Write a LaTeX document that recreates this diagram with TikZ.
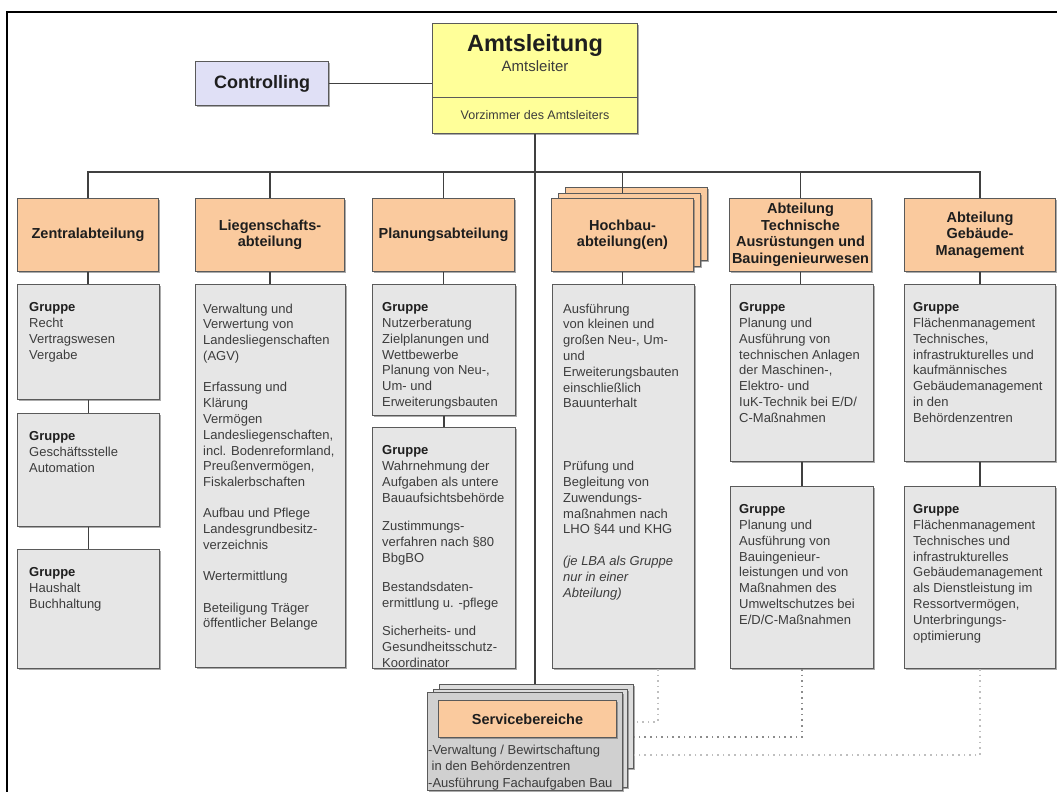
\documentclass[tikz,border=0pt]{standalone}
\usepackage{fontspec}
\setmainfont{Liberation Sans}
\usetikzlibrary{shadows}

\definecolor{hdrfill}{HTML}{FACA9E}
\definecolor{boxfill}{HTML}{E6E6E6}
\definecolor{amtfill}{HTML}{FFFF99}
\definecolor{ctrlfill}{HTML}{E0E0F6}
\definecolor{svfill}{HTML}{D0D0D0}
\definecolor{svback}{HTML}{DCDCDC}
\definecolor{edge}{HTML}{5A5A5A}
\definecolor{ink}{HTML}{3C3C3C}
\definecolor{headink}{HTML}{1E1E1E}
\definecolor{linecol}{HTML}{404040}

% fixed height of the first text line in the group boxes
\newcommand\firstln{\rule{0pt}{10pt}}
\newcommand\gruppe{\textcolor{headink}{\bfseries Gruppe}}

\begin{document}
\begin{tikzpicture}[x=1pt,y=-1pt,
  frameline/.style={line width=2pt, black},
  boxbase/.style={draw=edge, line width=1pt, inner sep=0pt, anchor=north west,
    drop shadow={shadow xshift=1.1pt, shadow yshift=-1.1pt, opacity=0.55, fill=black!60}},
  hdr/.style={boxbase, fill=hdrfill, text=headink, align=center,
    font=\bfseries\fontsize{14.5}{16.5}\selectfont, minimum height=73pt},
  grp/.style={boxbase, fill=boxfill},
  txt/.style={anchor=north west, inner sep=0pt, align=left, text=ink,
    font=\fontsize{13}{15.8}\selectfont, execute at begin node=\firstln},
  conn/.style={draw=linecol, line width=1.6pt},
  dotlight/.style={draw=black!25, line width=1.2pt, dash pattern=on 1.6pt off 4pt},
  dotdark/.style={draw=black!45, line width=1.2pt, dash pattern=on 1.6pt off 4pt},
]
\useasboundingbox (0,0) rectangle (1057,792);

% outer frame
\draw[frameline] (7,792) -- (7,12) -- (1057,12);

% junction level of the department bus
\coordinate (bus) at (533,172);

% ---------- office head ----------
\node[boxbase, fill=amtfill, minimum width=205pt, minimum height=74pt] (amt) at (432,23) {};
\node[boxbase, fill=amtfill, minimum width=205pt, minimum height=36pt,
  font=\fontsize{12.5}{15}\selectfont, text=ink] (vz) at (432,97) {Vorzimmer des Amtsleiters};
\node[font=\bfseries\fontsize{23.5}{26}\selectfont, text=headink] (amtT) at ([yshift=-22pt]amt.north) {Amtsleitung};
\node[font=\fontsize{15}{18}\selectfont, text=ink] (amtL) at ([yshift=-43pt]amt.north) {Amtsleiter};

\node[boxbase, fill=ctrlfill, minimum width=133pt, minimum height=44pt,
  font=\bfseries\fontsize{18}{21}\selectfont, text=headink] (ctrl) at (195,61) {Controlling};
\draw[conn] (ctrl.east) -- (ctrl.east -| amt.west);

% ---------- department headers ----------
\node[hdr, minimum width=141pt] (zh) at (17,198) {Zentralabteilung};
\node[hdr, minimum width=149pt] (lh) at (195,198) {Liegenschafts-\\abteilung};
\node[hdr, minimum width=142pt] (ph) at (372,198) {Planungsabteilung};
\node[boxbase, fill=hdrfill, minimum width=142pt, minimum height=73pt] (hh3) at (565,187) {};
\node[boxbase, fill=hdrfill, minimum width=142pt, minimum height=73pt] (hh2) at (558,193) {};
\node[hdr, minimum width=142pt] (hh) at (551,198) {Hochbau-\\abteilung(en)};
\node[hdr, minimum width=142pt] (th) at (729,198) {Abteilung\\Technische\\Ausrüstungen und\\Bauingenieurwesen};
\node[hdr, minimum width=151pt] (gh) at (904,198) {Abteilung\\Gebäude-\\Management};

% bus and drops
\draw[conn] (vz.south) -- (vz.south |- bus);
\draw[conn] (zh.north) |- (gh.north |- bus) -- (gh.north);
\draw[conn] (lh.north) -- (lh.north |- bus);
\draw[conn] (ph.north) -- (ph.north |- bus);
\draw[conn] (hh.north |- hh2.north) -- (hh.north |- bus);
\draw[conn] (th.north) -- (th.north |- bus);

% ---------- group boxes ----------
\node[grp, minimum width=142pt, minimum height=115pt] (z1) at (17,284) {};
\node[grp, minimum width=142pt, minimum height=113pt] (z2) at (17,413) {};
\node[grp, minimum width=142pt, minimum height=119pt] (z3) at (17,549) {};
\node[grp, minimum width=150pt, minimum height=383pt] (l1) at (195,284) {};
\node[grp, minimum width=143pt, minimum height=131pt] (p1) at (372,284) {};
\node[grp, minimum width=143pt, minimum height=241pt] (p2) at (372,427) {};
\node[grp, minimum width=142pt, minimum height=384pt] (h1) at (552,284) {};
\node[grp, minimum width=143pt, minimum height=177pt] (t1) at (730,284) {};
\node[grp, minimum width=143pt, minimum height=182pt] (t2) at (730,486) {};
\node[grp, minimum width=151pt, minimum height=177pt] (g1) at (904,284) {};
\node[grp, minimum width=151pt, minimum height=182pt] (g2) at (904,486) {};

% header to group links
\draw[conn] (zh.south) -- (zh.south |- z1.north);
\draw[conn] (z1.south) -- (z1.south |- z2.north);
\draw[conn] (z2.south) -- (z2.south |- z3.north);
\draw[conn] (lh.south) -- (lh.south |- l1.north);
\draw[conn] (ph.south) -- (ph.south |- p1.north);
\draw[conn] (p1.south) -- (p1.south |- p2.north);
\draw[conn] (hh.south) -- (hh.south |- h1.north);
\draw[conn] (th.south) -- (th.south |- t1.north);
\draw[conn] (t1.south) -- (t1.south |- t2.north);
\draw[conn] (gh.south) -- (gh.south |- g1.north);
\draw[conn] (g1.south) -- (g1.south |- g2.north);

% ---------- group texts ----------
\node[txt] (z1t) at ([shift={(12,18.5)}]z1.north west) {\gruppe\\Recht\\Vertragswesen\\Vergabe};
\node[txt] (z2t) at ([shift={(12,18.5)}]z2.north west) {\gruppe\\Geschäftsstelle\\Automation};
\node[txt] (z3t) at ([shift={(12,18.5)}]z3.north west) {\gruppe\\Haushalt\\Buchhaltung};

\node[txt] (l1t) at ([shift={(8,19.5)}]l1.north west) {Verwaltung und\\Verwertung von\\Landesliegenschaften\\(AGV)\\[15.5pt]%
Erfassung und\\Klärung\\Vermögen\\Landesliegenschaften,\\incl. Bodenreformland,\\Preußenvermögen,\\Fiskalerbschaften\\[15.5pt]%
Aufbau und Pflege\\Landesgrundbesitz-\\verzeichnis\\[15.5pt]%
Wertermittlung\\[15.5pt]%
Beteiligung Träger\\öffentlicher Belange};

\node[txt] (p1t) at ([shift={(10,18.5)}]p1.north west) {\gruppe\\Nutzerberatung\\Zielplanungen und\\Wettbewerbe\\Planung von Neu-,\\Um- und\\Erweiterungsbauten};
\node[txt] (p2t) at ([shift={(10,18.5)}]p2.north west) {\gruppe\\Wahrnehmung der\\Aufgaben als untere\\Bauaufsichtsbehörde\\[13pt]%
Zustimmungs-\\verfahren nach §80\\BbgBO\\[13pt]%
Bestandsdaten-\\ermittlung u. -pflege\\[13pt]%
Sicherheits- und\\Gesundheitsschutz-\\Koordinator};

\node[txt] (h1t) at ([shift={(11,19.5)}]h1.north west) {Ausführung\\von kleinen und\\großen Neu-, Um-\\und\\Erweiterungsbauten\\einschließlich\\Bauunterhalt\\[47pt]%
Prüfung und\\Begleitung von\\Zuwendungs-\\maßnahmen nach\\LHO §44 und KHG\\[16pt]%
\textit{(je LBA als Gruppe}\\\textit{nur in einer}\\\textit{Abteilung)}};

\node[txt] (t1t) at ([shift={(9,18.5)}]t1.north west) {\gruppe\\Planung und\\Ausführung von\\technischen Anlagen\\der Maschinen-,\\Elektro- und\\IuK-Technik bei E/D/\\C-Maßnahmen};
\node[txt] (t2t) at ([shift={(9,18.5)}]t2.north west) {\gruppe\\Planung und\\Ausführung von\\Bauingenieur-\\leistungen und von\\Maßnahmen des\\Umweltschutzes bei\\E/D/C-Maßnahmen};
\node[txt] (g1t) at ([shift={(9,18.5)}]g1.north west) {\gruppe\\Flächenmanagement\\Technisches,\\infrastrukturelles und\\kaufmännisches\\Gebäudemanagement\\in den\\Behördenzentren};
\node[txt] (g2t) at ([shift={(9,18.5)}]g2.north west) {\gruppe\\Flächenmanagement\\Technisches und\\infrastrukturelles\\Gebäudemanagement\\als Dienstleistung im\\Ressortvermögen,\\Unterbringungs-\\optimierung};

% ---------- service units ----------
\node[boxbase, fill=svback, minimum width=194pt, minimum height=84pt] (sv3) at (439,684) {};
\node[boxbase, fill=svback, minimum width=194pt, minimum height=98pt] (sv2) at (433,689) {};
\node[boxbase, fill=svfill, minimum width=195pt, minimum height=98pt] (sv) at (427,692) {};
\node[boxbase, fill=hdrfill, minimum width=178pt, minimum height=37pt,
  font=\bfseries\fontsize{14.5}{16.5}\selectfont, text=headink] (svh) at (438,700) {Servicebereiche};
\node[txt, font=\fontsize{13}{16.5}\selectfont] (svt) at (428,744.5)
  {-Verwaltung / Bewirtschaftung\\\hspace{3.5pt}in den Behördenzentren\\-Ausführung Fachaufgaben Bau};

\draw[conn] (vz.south |- bus) -- (vz.south |- sv3.north);

% dotted links to the service units
\coordinate (d1) at (658,722);
\coordinate (d2) at (802,737);
\coordinate (d3) at (981,755);
\draw[dotlight] (h1.south -| d1) -- (d1) -- (d1 -| sv3.east);
\draw[dotdark] (t2.south) -- (t2.south |- d2) -- (d2 -| sv3.east);
\draw[dotlight] (g2.south) -- (g2.south |- d3) -- (d3 -| sv3.east);
\end{tikzpicture}
\end{document}
